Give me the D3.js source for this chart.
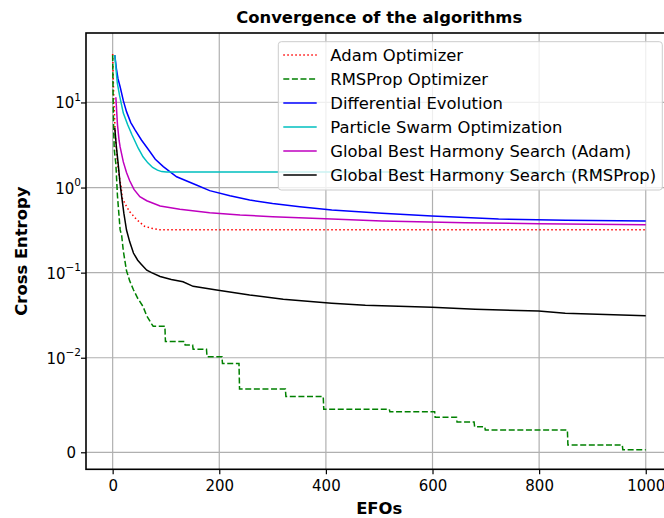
<!DOCTYPE html>
<head>
  <meta charset="utf-8">
  <title>convergence</title>
  <style>
    body { margin: 0; background: #fff; }
    svg { display: block; overflow: hidden; }
    text { font-family: "DejaVu Sans", sans-serif; }
  </style>
</head>

<script src="https://d3js.org/d3.v7.min.js"></script>

<div id="my_dataviz"></div>

<script>

  // values (EFOs, cross entropy)
  const adamX = [0, 1, 2, 5, 9, 12, 16, 18, 26, 32, 45, 60, 75, 86, 1000]
  const adamY = [37, 20, 12, 4, 2, 1.4, 1.0, 0.75, 0.6, 0.52, 0.42, 0.35, 0.33, 0.32, 0.32]

  const rmsX = [0, 1, 2, 3, 6, 9, 14, 17, 20, 26, 32, 39, 47, 57, 64, 73, 76, 98, 99, 135, 136, 150, 151, 176, 177, 205, 206, 237, 238, 324, 325, 395, 396, 519, 520, 604, 605, 645, 646, 678, 679, 698, 699, 853, 854, 956, 957, 1000]
  const rmsY = [36, 10, 4.5, 2.8, 1.9, 0.8, 0.32, 0.27, 0.18, 0.105, 0.08, 0.063, 0.05, 0.04, 0.031, 0.025, 0.0235, 0.0235, 0.0155, 0.0155, 0.0141, 0.0141, 0.0126, 0.0126, 0.0103, 0.0103, 0.0094, 0.0094, 0.0067, 0.0067, 0.0059, 0.0059, 0.00455, 0.00455, 0.0043, 0.0043, 0.0037, 0.0037, 0.0032, 0.0032, 0.0027, 0.0027, 0.00236, 0.00236, 0.00077, 0.00077, 0.000275, 0.000275]

  const deX = [4, 7, 10, 14, 20, 26, 34, 42, 54, 67, 80, 95, 120, 157, 182, 220, 257, 300, 351, 411, 505, 599, 724, 850, 1000]
  const deY = [36, 25, 19, 15.3, 10.5, 7.8, 5.8, 4.75, 3.62, 2.8, 2.15, 1.76, 1.34, 1.07, 0.92, 0.8, 0.714, 0.65, 0.596, 0.545, 0.498, 0.464, 0.427, 0.413, 0.405]

  const psoX = [4, 6, 8.7, 13, 20, 28, 36, 48, 57, 66, 75, 84, 92, 101, 1000]
  const psoY = [36, 26, 17, 12, 7.5, 5.5, 4.2, 2.9, 2.3, 1.95, 1.72, 1.6, 1.54, 1.52, 1.52]

  const gbhsAdamX = [6, 9, 12, 14, 20, 26, 32, 40, 51, 64, 89, 126, 182, 239, 300, 411, 505, 661, 800, 1000]
  const gbhsAdamY = [11.5, 5.5, 3.6, 3.0, 2.0, 1.5, 1.2, 0.95, 0.78, 0.7, 0.607, 0.555, 0.507, 0.475, 0.455, 0.427, 0.405, 0.387, 0.375, 0.366]

  const gbhsRmsX = [4, 7, 10, 14, 17, 21, 26, 32, 39, 47, 54, 64, 73, 89, 110, 132, 151, 195, 257, 320, 411, 474, 599, 680, 799, 849, 1000]
  const gbhsRmsY = [5.05, 3.0, 2.0, 1.1, 0.78, 0.5, 0.317, 0.23, 0.17, 0.14, 0.125, 0.107, 0.1, 0.09, 0.083, 0.078, 0.069, 0.0625, 0.0546, 0.0487, 0.0437, 0.0413, 0.0392, 0.0371, 0.0354, 0.0333, 0.0312]

  const seriesNames = ["Adam Optimizer", "RMSProp Optimizer", "Differential Evolution",
    "Particle Swarm Optimization", "Global Best Harmony Search (Adam)", "Global Best Harmony Search (RMSProp)"]
  const seriesColors = ["#ff0000", "#008000", "#0000ff", "#00bfbf", "#bf00bf", "#000000"]
  const seriesDash = ["1.5,2.5", "6,2.6", null, null, null, null]

  const xTicks = [0, 200, 400, 600, 800, 1000]
  const yTicks = [10, 1, 0.1, 0.01, 0]
  const yTickExp = ["1", "0", "\u22121", "\u22122", null]

  // set the dimensions and margins of the graph (right edge runs past the window)
  const margin = {top: 33, right: -8.4, bottom: 48.7, left: 86},
      width = 664 - margin.left - margin.right,
      height = 518 - margin.top - margin.bottom;

  const svg = d3.select("#my_dataviz")
    .append("svg")
      .attr("width", 664)
      .attr("height", 518)
    .append("g")
      .attr("transform", `translate(${margin.left},${margin.top})`);

  // symmetric log like matplotlib (linthresh 0.01, linscale 1)
  const linthresh = 0.01, linAdj = 1 / (1 - 1 / 10);
  function symlog(v) {
    const a = Math.abs(v);
    const t = a <= linthresh ? a * linAdj : linthresh * (linAdj + Math.log10(a / linthresh));
    return Math.sign(v) * t;
  }

  const x = d3.scaleLinear()
    .domain([-50, 1050])
    .range([0, width]);

  const yT = d3.scaleLinear()
    .domain([symlog(-0.0018), symlog(65.5)])
    .range([height, 0]);
  const y = v => yT(symlog(v));

  // grid
  svg.append("g")
    .selectAll("line")
    .data(xTicks)
    .join("line")
      .attr("x1", d => x(d)).attr("x2", d => x(d))
      .attr("y1", 0).attr("y2", height)
      .attr("stroke", "#b0b0b0").attr("stroke-width", 1.2);
  svg.append("g")
    .selectAll("line")
    .data(yTicks)
    .join("line")
      .attr("x1", 0).attr("x2", width)
      .attr("y1", d => y(d)).attr("y2", d => y(d))
      .attr("stroke", "#b0b0b0").attr("stroke-width", 1.2);

  // lines
  const seriesX = [adamX, rmsX, deX, psoX, gbhsAdamX, gbhsRmsX]
  const seriesY = [adamY, rmsY, deY, psoY, gbhsAdamY, gbhsRmsY]
  const line = d3.line().x(d => x(d[0])).y(d => y(d[1]));

  seriesX.forEach((xs, i) => {
    svg.append("path")
      .datum(xs.map((v, j) => [v, seriesY[i][j]]))
      .attr("fill", "none")
      .attr("stroke", seriesColors[i])
      .attr("stroke-width", 1.5)
      .attr("stroke-dasharray", seriesDash[i])
      .attr("d", line);
  });

  // X axis
  const xAxis = svg.append("g")
    .attr("transform", `translate(0, ${height})`)
    .call(d3.axisBottom(x).tickValues(xTicks).tickFormat(d3.format("d")).tickSize(5).tickPadding(6).tickSizeOuter(0));
  xAxis.select(".domain").remove();
  xAxis.selectAll("line").attr("stroke-width", 1.2);
  xAxis.selectAll("text").attr("font-size", 15).attr("font-family", "DejaVu Sans").attr("fill", "#000");

  // Y axis (labels written with superscripts below)
  const yAxis = svg.append("g")
    .call(d3.axisLeft(yT).tickValues(yTicks.map(symlog)).tickSize(5).tickFormat("").tickSizeOuter(0));
  yAxis.select(".domain").remove();
  yAxis.selectAll("line").attr("stroke-width", 1.2);

  yTicks.forEach((v, i) => {
    const t = svg.append("text")
      .attr("y", y(v) + 6)
      .attr("text-anchor", "end")
      .attr("font-size", 15);
    if (yTickExp[i] === null) {
      t.attr("x", -10).text("0");
    } else {
      t.attr("x", -5);
      t.append("tspan").text("10");
      t.append("tspan").attr("dy", -7.5).attr("font-size", 10.5).text(yTickExp[i]);
    }
  });

  // spines
  svg.append("rect")
    .attr("width", width).attr("height", height)
    .attr("fill", "none").attr("stroke", "#000").attr("stroke-width", 1.6);

  // title & labels
  svg.append("text")
    .attr("x", width / 2).attr("y", -10)
    .attr("text-anchor", "middle")
    .attr("font-size", 16.4).attr("font-weight", "bold")
    .text("Convergence of the algorithms");

  svg.append("text")
    .attr("x", width / 2).attr("y", height + 45)
    .attr("text-anchor", "middle")
    .attr("font-size", 16.4).attr("font-weight", "bold")
    .text("EFOs");

  svg.append("text")
    .attr("transform", `translate(${-59}, ${height / 2}) rotate(-90)`)
    .attr("text-anchor", "middle")
    .attr("font-size", 16.4).attr("font-weight", "bold")
    .text("Cross Entropy");

  // legend
  const legend = svg.append("g")
    .attr("transform", `translate(${278.3 - margin.left}, ${41.7 - margin.top})`);
  legend.append("rect")
    .attr("width", 384).attr("height", 148.3)
    .attr("rx", 3)
    .attr("fill", "#fff").attr("fill-opacity", 0.8)
    .attr("stroke", "#cccccc").attr("stroke-width", 1);
  const rows = legend.selectAll("g.row")
    .data(seriesNames)
    .join("g")
      .attr("class", "row")
      .attr("transform", (d, i) => `translate(0, ${13.3 + i * 24})`);
  rows.append("line")
    .attr("x1", 5).attr("x2", 38.4)
    .attr("stroke", (d, i) => seriesColors[i])
    .attr("stroke-width", 1.5)
    .attr("stroke-dasharray", (d, i) => seriesDash[i]);
  rows.append("text")
    .attr("x", 52)
    .attr("y", 6)
    .attr("font-size", 16.4)
    .text(d => d);

</script>
